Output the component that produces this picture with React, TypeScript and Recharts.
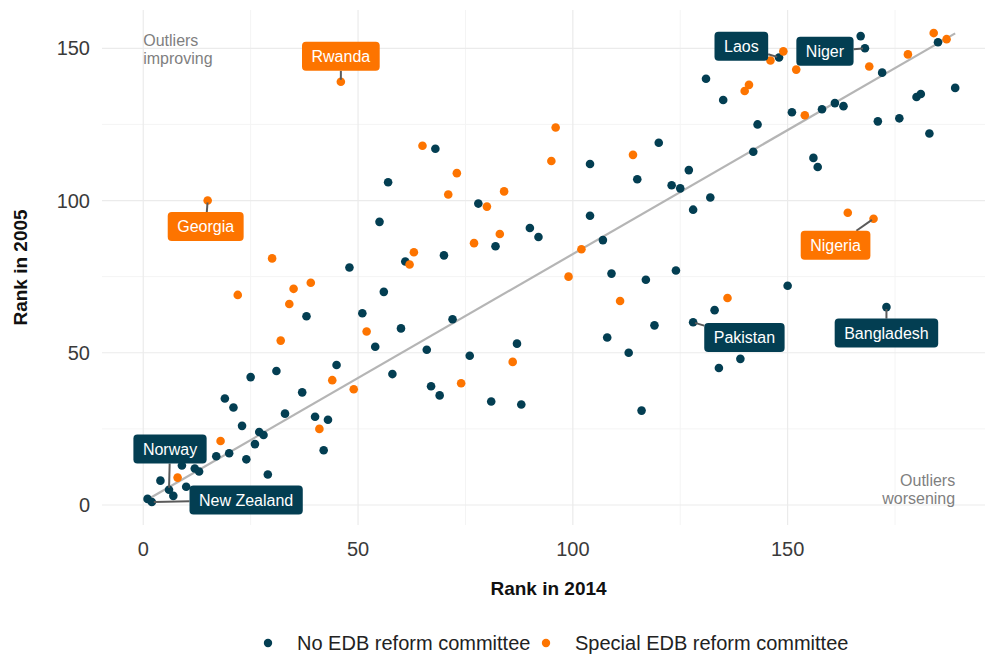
import React from "react";
import {
  ScatterChart,
  Scatter,
  XAxis,
  YAxis,
  ReferenceLine,
  ReferenceDot,
  Legend,
  Label,
} from "recharts";

// [rank in 2014, rank in 2005]
const noCommitteeRanks = [
  [1, 2], [2, 1], [4, 8], [6, 5], [7, 3], [9, 13], [10, 6], [12, 12], [13, 11],
  [17, 16], [19, 35], [20, 17], [21, 32], [23, 26], [24, 15], [25, 42], [26, 20],
  [27, 24], [28, 23], [29, 10], [31, 44], [33, 30], [37, 37], [38, 62], [40, 29],
  [42, 18], [43, 28], [45, 46], [48, 78], [51, 63], [54, 52], [55, 93], [56, 70],
  [57, 106], [58, 43], [60, 58], [61, 80], [66, 51], [67, 39], [68, 117], [69, 36],
  [70, 82], [72, 61], [76, 49], [78, 99], [81, 34], [82, 85], [87, 53], [88, 33],
  [90, 91], [92, 88], [104, 112], [104, 95], [107, 87], [108, 55], [109, 76],
  [113, 50], [115, 107], [116, 31], [117, 74], [119, 59], [120, 119], [123, 105],
  [124, 77], [125, 104], [127, 110], [128, 97], [128, 60], [131, 140], [132, 101],
  [133, 64], [134, 45], [135, 133], [139, 48], [142, 116], [143, 125], [148, 147],
  [150, 72], [151, 129], [156, 114], [157, 111], [158, 130], [161, 132], [163, 131],
  [167, 154], [168, 150], [171, 126], [172, 142], [173, 65], [176, 127], [180, 134],
  [181, 135], [183, 122], [185, 152], [189, 137],
];

const specialCommitteeRanks = [
  [8, 9], [15, 100], [18, 21], [22, 69], [30, 81], [32, 54], [34, 66], [35, 71],
  [39, 73], [41, 25], [44, 41], [46, 139], [49, 38], [52, 57], [62, 79], [63, 83],
  [65, 118], [71, 102], [73, 109], [74, 40], [77, 86], [80, 98], [83, 89], [84, 103],
  [86, 47], [95, 113], [96, 124], [99, 75], [102, 84], [111, 67], [114, 115],
  [136, 68], [140, 136], [141, 138], [146, 146], [149, 149], [152, 143], [154, 128],
  [164, 96], [169, 144], [170, 94], [178, 148], [184, 155], [187, 153],
];

const namedCountries = [
  { name: "Rwanda", group: "special", x: 46, y: 139 },
  { name: "Georgia", group: "special", x: 15, y: 100 },
  { name: "Nigeria", group: "special", x: 170, y: 94 },
  { name: "Laos", group: "none", x: 148, y: 147 },
  { name: "Niger", group: "none", x: 168, y: 150 },
  { name: "Pakistan", group: "none", x: 128, y: 60 },
  { name: "Bangladesh", group: "none", x: 173, y: 65 },
  { name: "Norway", group: "none", x: 6, y: 5 },
  { name: "New Zealand", group: "none", x: 2, y: 1 },
];

const fitLine = [
  { x: 1, y: 1.8 },
  { x: 189, y: 154.9 },
];

const seriesNames = ["No EDB reform committee", "Special EDB reform committee"];
const xTicks = [0, 50, 100, 150];
const yTicks = [0, 50, 100, 150];
const minorX = [25, 75, 125, 175];
const minorY = [25, 75, 125];

const X_DOMAIN: [number, number] = [-9.6, 198.27];
const Y_DOMAIN: [number, number] = [-6.57, 162.58];

const TEAL = "#033e52";
const ORANGE = "#fd7400";
const FONT = '"Liberation Sans", Arial, sans-serif';

// pixel offset of each label box centre from its point (repel layout)
const labelOffset: Record<string, [number, number]> = {
  Rwanda: [0, -25.5],
  Georgia: [-2, 26],
  Nigeria: [-38, 26.5],
  Laos: [-37.7, -11.2],
  Niger: [-40, 3],
  Pakistan: [51.3, 15.2],
  Bangladesh: [0, 26],
  Norway: [1, -40.8],
  "New Zealand": [94.3, -2],
};

const noCommittee = noCommitteeRanks.map(([x, y]) => ({ x, y }));
const specialCommittee = specialCommitteeRanks.map(([x, y]) => ({ x, y }));

let ctx: CanvasRenderingContext2D | null = null;
function textWidth(s: string, font: string) {
  if (!ctx) ctx = document.createElement("canvas").getContext("2d");
  if (!ctx) return s.length * 8;
  ctx.font = font;
  return ctx.measureText(s).width;
}

const dot = (color: string) => (p: any) => (
  <circle cx={p.cx} cy={p.cy} r={4.3} fill={color} />
);

function Callout(p: any) {
  const { cx, cy, payload } = p;
  if (cx == null || cy == null) return null;
  const [dx, dy] = labelOffset[payload.name];
  const color = payload.group === "special" ? ORANGE : TEAL;
  const w = textWidth(payload.name, `16px ${FONT}`) + 19;
  const h = 29;
  const bx = cx + dx;
  const by = cy + dy;
  const vx = cx - bx;
  const vy = cy - by;
  const s = Math.min(
    w / 2 / Math.max(Math.abs(vx), 1e-6),
    h / 2 / Math.max(Math.abs(vy), 1e-6)
  );
  const ex = bx + vx * s;
  const ey = by + vy * s;
  const len = Math.hypot(cx - ex, cy - ey);
  const k = len > 0 ? Math.max(0, (len - 2) / len) : 0;
  return (
    <g>
      {s < 1 && (
        <line
          x1={ex}
          y1={ey}
          x2={ex + (cx - ex) * k}
          y2={ey + (cy - ey) * k}
          stroke="#5a5a5a"
          strokeWidth={2}
        />
      )}
      <rect x={bx - w / 2} y={by - h / 2} width={w} height={h} rx={4} fill={color} />
      <text
        x={bx}
        y={by + 5.6}
        textAnchor="middle"
        fill="#ffffff"
        fontSize={16}
        fontFamily={FONT}
      >
        {payload.name}
      </text>
    </g>
  );
}

const Note = (lines: string[], anchor: "start" | "end", offsets: number[]) => (p: any) => (
  <text fill="#7f7f7f" fontSize={16} fontFamily={FONT} textAnchor={anchor}>
    {lines.map((l, i) => (
      <tspan key={i} x={p.cx} y={p.cy + offsets[i]}>
        {l}
      </tspan>
    ))}
  </text>
);

const legendSlots = [268, 546];

function LegendRow() {
  return (
    <svg width={995} height={30} style={{ display: "block" }}>
      {seriesNames.map((name, i) => (
        <g key={name}>
          <circle cx={legendSlots[i]} cy={15} r={4.2} fill={i === 0 ? TEAL : ORANGE} />
          <text
            x={legendSlots[i] + 29}
            y={22}
            fontSize={20}
            fontFamily={FONT}
            fill="#222"
          >
            {name}
          </text>
        </g>
      ))}
    </svg>
  );
}

export default function App() {
  return (
    <div
      style={{
        position: "absolute",
        left: 0,
        top: 0,
        width: 985,
        height: 658,
        overflow: "hidden",
        background: "#fff",
      }}
    >
      <ScatterChart width={995} height={658} margin={{ top: 10, right: 0, bottom: 0, left: 0 }}>
        <XAxis
          type="number"
          dataKey="x"
          domain={X_DOMAIN}
          ticks={xTicks}
          interval={0}
          allowDataOverflow
          axisLine={false}
          tickLine={false}
          tickSize={0}
          tickMargin={17}
          height={103}
          tick={{ fill: "#3a3a3a", fontSize: 20, fontFamily: FONT }}
        >
          <Label
            content={(p: any) => {
              const vb = p.viewBox || { x: 102, y: 525, width: 893, height: 103 };
              return (
                <text
                  x={vb.x + vb.width / 2}
                  y={vb.y + 70}
                  textAnchor="middle"
                  fontSize={19}
                  fontWeight="bold"
                  fontFamily={FONT}
                  fill="#111"
                >
                  Rank in 2014
                </text>
              );
            }}
          />
        </XAxis>
        <YAxis
          type="number"
          dataKey="y"
          domain={Y_DOMAIN}
          ticks={yTicks}
          interval={0}
          allowDataOverflow
          axisLine={false}
          tickLine={false}
          tickSize={0}
          tickMargin={12}
          width={102}
          tick={{ fill: "#3a3a3a", fontSize: 20, fontFamily: FONT }}
        >
          <Label
            content={(p: any) => {
              const vb = p.viewBox || { x: 0, y: 10, width: 102, height: 515 };
              const x = vb.x + 27;
              const y = vb.y + vb.height / 2;
              return (
                <text
                  x={x}
                  y={y}
                  transform={`rotate(-90 ${x} ${y})`}
                  textAnchor="middle"
                  fontSize={19}
                  fontWeight="bold"
                  fontFamily={FONT}
                  fill="#111"
                >
                  Rank in 2005
                </text>
              );
            }}
          />
        </YAxis>
        {minorY.map((v) => (
          <ReferenceLine key={`my${v}`} y={v} stroke="#f4f4f4" strokeWidth={1} />
        ))}
        {minorX.map((v) => (
          <ReferenceLine key={`mx${v}`} x={v} stroke="#f4f4f4" strokeWidth={1} />
        ))}
        {yTicks.map((v) => (
          <ReferenceLine key={`y${v}`} y={v} stroke="#ebebeb" strokeWidth={1.2} />
        ))}
        {xTicks.map((v) => (
          <ReferenceLine key={`x${v}`} x={v} stroke="#ebebeb" strokeWidth={1.2} />
        ))}
        <ReferenceLine segment={fitLine} stroke="#b5b5b5" strokeWidth={2.2} />
        <ReferenceDot
          x={0}
          y={155}
          r={0}
          shape={Note(["Outliers", "improving"], "start", [12.5, 30.5])}
        />
        <ReferenceDot
          x={189}
          y={0}
          r={0}
          shape={Note(["Outliers", "worsening"], "end", [-18.5, -0.5])}
        />
        <Scatter
          name={seriesNames[0]}
          data={noCommittee}
          fill={TEAL}
          shape={dot(TEAL)}
          isAnimationActive={false}
        />
        <Scatter
          name={seriesNames[1]}
          data={specialCommittee}
          fill={ORANGE}
          shape={dot(ORANGE)}
          isAnimationActive={false}
        />
        <Scatter
          name="labels"
          data={namedCountries}
          shape={Callout}
          legendType="none"
          isAnimationActive={false}
        />
        <Legend
          verticalAlign="bottom"
          content={() => <LegendRow />}
          wrapperStyle={{ left: 0, bottom: 0, width: 995, height: 30 }}
        />
      </ScatterChart>
    </div>
  );
}
